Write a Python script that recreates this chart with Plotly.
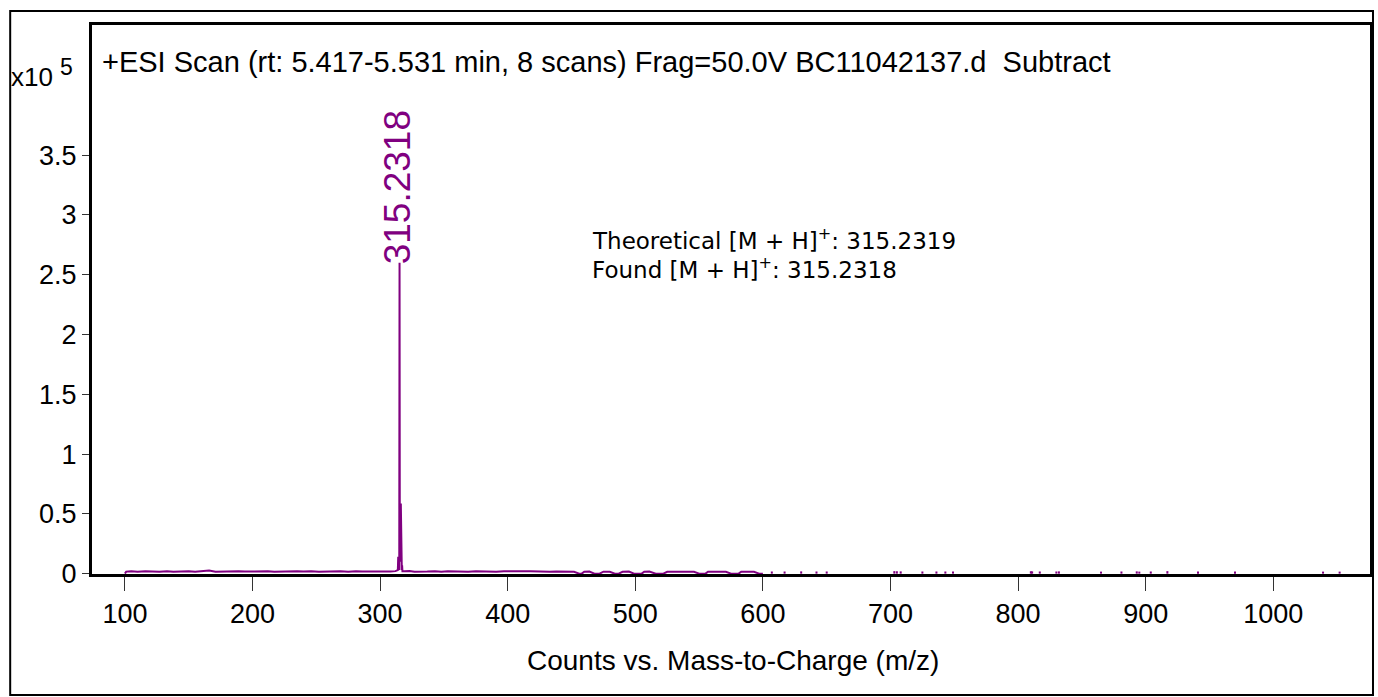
import plotly.graph_objects as go

# ---------------- data ----------------
# continuous profile (m/z, intensity in units of 1e5 counts)
profile_mz = [100, 101, 105, 110, 116, 121, 127, 133, 138, 144,
              150, 155, 161, 166, 171, 177, 183, 189, 194, 200,
              206, 212, 217, 223, 229, 235, 240, 246, 252, 258,
              263, 269, 275, 281, 286, 292, 297, 303, 308, 312,
              313.9, 314.2, 314.5, 315.0, 315.2318, 315.45, 316.0, 316.23, 316.45, 317.0,
              317.24, 317.5, 319, 323, 327, 332, 337, 343, 348, 353,
              359, 364, 369, 375, 380, 386, 391, 397, 402, 407,
              412, 418, 423, 428, 433, 438, 443, 448, 452, 456,
              458, 460, 464, 468, 472, 475, 480, 484, 487, 490,
              495, 499, 505, 507, 511, 516, 522, 525, 530, 536,
              541, 546, 550, 555, 557, 562, 566, 571, 575, 581,
              583, 588, 593, 597, 600]
profile_int = [0.0, 0.017, 0.019, 0.016, 0.021, 0.017, 0.015, 0.020, 0.016, 0.018,
               0.021, 0.016, 0.019, 0.026, 0.016, 0.018, 0.015, 0.020, 0.017, 0.019,
               0.016, 0.021, 0.016, 0.018, 0.015, 0.019, 0.017, 0.020, 0.016, 0.018,
               0.016, 0.019, 0.015, 0.021, 0.017, 0.016, 0.019, 0.016, 0.018, 0.021,
               0.030, 0.140, 0.040, 0.030, 2.600, 0.100, 0.200, 0.586, 0.100, 0.030,
               0.070, 0.020, 0.019, 0.022, 0.016, 0.020, 0.018, 0.021, 0.016, 0.020,
               0.017, 0.019, 0.016, 0.020, 0.017, 0.018, 0.016, 0.020, 0.018, 0.021,
               0.019, 0.020, 0.017, 0.019, 0.016, 0.018, 0.016, 0.017, 0.015, 0.0,
               0.0, 0.016, 0.017, 0.0, 0.0, 0.016, 0.015, 0.0, 0.0, 0.015,
               0.017, 0.0, 0.0, 0.016, 0.017, 0.0, 0.0, 0.015, 0.016, 0.017,
               0.015, 0.016, 0.0, 0.0, 0.016, 0.015, 0.017, 0.015, 0.0, 0.0,
               0.016, 0.015, 0.015, 0.0, 0.0]

# isolated small noise peaks at higher m/z
stick_mz = [607, 617, 630, 642, 650, 703, 705, 708, 725, 736,
            743, 749, 810, 811, 817, 830, 832, 865, 881, 893,
            895, 904, 917, 941, 970, 1039, 1052]
stick_int = [0.018, 0.018, 0.019, 0.018, 0.018, 0.021, 0.020, 0.019, 0.018, 0.018,
             0.018, 0.018, 0.020, 0.019, 0.018, 0.018, 0.019, 0.017, 0.018, 0.019,
             0.017, 0.018, 0.021, 0.017, 0.017, 0.017, 0.017]

peak_mz = 315.2318
peak_int = 2.60
peak_label = "315.2318"

x_tick_vals = [100, 200, 300, 400, 500, 600, 700, 800, 900, 1000]
x_tick_text = ["100", "200", "300", "400", "500", "600", "700", "800", "900", "1000"]
y_tick_vals = [0, 0.5, 1, 1.5, 2, 2.5, 3, 3.5]
y_tick_text = ["0", "0.5", "1", "1.5", "2", "2.5", "3", "3.5"]

title_text = "+ESI Scan (rt: 5.417-5.531 min, 8 scans) Frag=50.0V BC11042137.d  Subtract"
x_title = "Counts vs. Mass-to-Charge (m/z)"
note_lines = ["Theoretical [M + H]<sup>+</sup>: 315.2319", "Found [M + H]<sup>+</sup>: 315.2318"]

# ---------------- figure ----------------
PURPLE = "#800080"
SANS = "Liberation Sans, Arial, sans-serif"
W, H = 1378, 697
ML, MR, MT, MB = 92, 5, 25, 123
pw, ph = W - ML - MR, H - MT - MB


def px_x(p):
    return (p - ML) / pw


def px_y(p):
    return 1 - (p - MT) / ph


stick_x, stick_y = [], []
for m, v in zip(stick_mz, stick_int):
    stick_x += [m, m, None]
    stick_y += [0, v, None]

fig = go.Figure()
fig.add_trace(go.Scatter(x=profile_mz, y=profile_int, mode="lines",
                         line=dict(color=PURPLE, width=2), hoverinfo="skip",
                         showlegend=False))
fig.add_trace(go.Scatter(x=stick_x, y=stick_y, mode="lines",
                         line=dict(color=PURPLE, width=2), hoverinfo="skip",
                         showlegend=False))

fig.update_layout(
    width=W, height=H,
    margin=dict(l=ML, r=MR, t=MT, b=MB),
    paper_bgcolor="white", plot_bgcolor="white",
    showlegend=False,
    xaxis=dict(range=[74.2, 1075.8], tickvals=x_tick_vals, ticktext=x_tick_text,
               showgrid=False, zeroline=False, showline=True, mirror=True,
               linecolor="black", linewidth=3, ticks="outside", ticklen=14,
               tickwidth=1.2, tickcolor="#333", tickfont=dict(family=SANS, size=27, color="black")),
    yaxis=dict(range=[-0.003, 4.589], tickvals=y_tick_vals, ticktext=y_tick_text,
               showgrid=False, zeroline=False, showline=True, mirror=True,
               linecolor="black", linewidth=3, ticks="outside", ticklen=7,
               tickwidth=1.2, tickcolor="#333", tickfont=dict(family=SANS, size=27, color="black")),
)

annotations = [
    dict(x=peak_mz, y=peak_int, xref="x", yref="y", text=peak_label, textangle=-90,
         showarrow=False, xanchor="center", yanchor="bottom", xshift=-2, yshift=-4,
         font=dict(family=SANS, size=37, color=PURPLE)),
    dict(x=px_x(100), y=px_y(62), xref="paper", yref="paper", text=title_text,
         showarrow=False, xanchor="left", yanchor="middle",
         font=dict(family=SANS, size=29, color="black")),
    dict(x=px_x(55), y=px_y(77), xref="paper", yref="paper", text="x10",
         showarrow=False, xanchor="right", yanchor="middle",
         font=dict(family=SANS, size=26, color="black")),
    dict(x=px_x(58), y=px_y(67), xref="paper", yref="paper", text="5",
         showarrow=False, xanchor="left", yanchor="middle",
         font=dict(family=SANS, size=23, color="black")),
    dict(x=px_x(735), y=px_y(660), xref="paper", yref="paper", text=x_title,
         showarrow=False, xanchor="center", yanchor="middle",
         font=dict(family=SANS, size=28, color="black")),
    dict(x=px_x(591), y=px_y(239), xref="paper", yref="paper", text=note_lines[0],
         showarrow=False, xanchor="left", yanchor="middle",
         font=dict(family="DejaVu Sans, Verdana", size=23, color="black")),
    dict(x=px_x(591), y=px_y(268), xref="paper", yref="paper", text=note_lines[1],
         showarrow=False, xanchor="left", yanchor="middle",
         font=dict(family="DejaVu Sans, Verdana", size=23, color="black")),
]
fig.update_layout(annotations=annotations)

fig.add_shape(type="rect", xref="paper", yref="paper",
              x0=px_x(10), x1=px_x(1376), y0=px_y(695), y1=px_y(11),
              line=dict(color="black", width=2), fillcolor="rgba(0,0,0,0)", layer="above")

fig.write_html("out.html", config={"displayModeBar": False},
               post_script="document.body.style.margin='0';document.body.style.padding='0';"
                           "document.body.style.overflow='hidden';")
